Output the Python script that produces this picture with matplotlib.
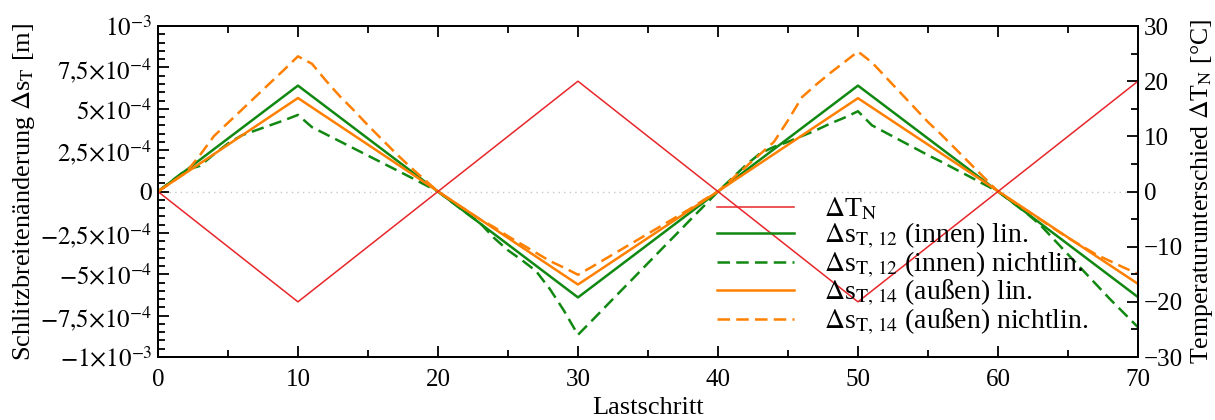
import matplotlib
matplotlib.use('Agg')
import matplotlib.pyplot as plt
import numpy as np
from matplotlib.ticker import MultipleLocator

plt.rcParams['font.family'] = ['Liberation Serif', 'DejaVu Serif']
plt.rcParams['mathtext.fontset'] = 'stix'
plt.rcParams['font.size'] = 17

# Temperaturunterschied (Eckpunkte)
steps_T = [0, 10, 30, 50, 70]
dT_N = [0, -20, 20, -20, 20]

# lineare Loesung (Eckpunkte), in mm
steps_lin = [0, 10, 30, 50, 70]
s12_lin = [0, 0.64, -0.64, 0.64, -0.638]
s14_lin = [0, 0.565, -0.562, 0.564, -0.558]

# nichtlineare Loesung je Lastschritt 0..70, in mm
steps = list(range(71))
s12_nl = [0, 0.065, 0.13, 0.155, 0.225, 0.29, 0.34, 0.37, 0.40, 0.43,
          0.463, 0.389, 0.346, 0.303, 0.26, 0.217, 0.174, 0.131, 0.088, 0.044,
          0, -0.064, -0.128, -0.19, -0.28, -0.355, -0.415, -0.48, -0.59, -0.72,
          -0.866, -0.78, -0.693, -0.606, -0.52, -0.433, -0.346, -0.26, -0.173, -0.087,
          0, 0.08, 0.16, 0.23, 0.27, 0.30, 0.335, 0.37, 0.41, 0.445,
          0.485, 0.40, 0.355, 0.31, 0.265, 0.22, 0.178, 0.133, 0.089, 0.044,
          0, -0.064, -0.128, -0.20, -0.29, -0.38, -0.47, -0.56, -0.65, -0.735,
          -0.82]
s14_nl = [0, 0.057, 0.115, 0.22, 0.335, 0.415, 0.495, 0.575, 0.655, 0.735,
          0.817, 0.772, 0.67, 0.575, 0.49, 0.40, 0.315, 0.23, 0.15, 0.075,
          0, -0.056, -0.112, -0.168, -0.215, -0.27, -0.32, -0.37, -0.42, -0.46,
          -0.503, -0.455, -0.405, -0.355, -0.305, -0.255, -0.205, -0.155, -0.105, -0.05,
          0, 0.075, 0.15, 0.225, 0.30, 0.43, 0.57, 0.645, 0.715, 0.78,
          0.846, 0.78, 0.69, 0.60, 0.51, 0.42, 0.34, 0.255, 0.17, 0.085,
          0, -0.056, -0.112, -0.168, -0.224, -0.28, -0.33, -0.38, -0.42, -0.46,
          -0.497]

yticks = [-1e-3, -7.5e-4, -5e-4, -2.5e-4, 0, 2.5e-4, 5e-4, 7.5e-4, 1e-3]
ylabels = [r'$-1{\times}10^{-3}$', r'$-7{,}5{\times}10^{-4}$', r'$-5{\times}10^{-4}$',
           r'$-2{,}5{\times}10^{-4}$', r'$0$', r'$2{,}5{\times}10^{-4}$',
           r'$5{\times}10^{-4}$', r'$7{,}5{\times}10^{-4}$', r'$10^{-3}$']

mm = 1e-3
green = '#118811'
orange = '#ff8000'
red = '#e8262a'

fig = plt.figure(figsize=(12.15, 4.2), dpi=100)
ax = fig.add_axes([0.130, 0.150, 0.8066, 0.788])
ax2 = ax.twinx()

ax.axhline(0, color='#c8c8c8', lw=1, ls=(0, (1, 3)), zorder=0)

l1, = ax2.plot(steps_T, dT_N, color=red, lw=1.1)
l2, = ax.plot(steps_lin, np.array(s12_lin) * mm, color=green, lw=1.8)
l3, = ax.plot(steps, np.array(s12_nl) * mm, color=green, lw=1.8, ls=(0, (5, 2.5)))
l4, = ax.plot(steps_lin, np.array(s14_lin) * mm, color=orange, lw=1.8)
l5, = ax.plot(steps, np.array(s14_nl) * mm, color=orange, lw=1.8, ls=(0, (5, 2.5)))

ax.set_xlim(0, 70)
ax.set_ylim(-1e-3, 1e-3)
ax2.set_ylim(-30, 30)

ax.xaxis.set_major_locator(MultipleLocator(10))
ax.xaxis.set_minor_locator(MultipleLocator(5))
ax.set_yticks(yticks)
ax.set_yticklabels(ylabels)
ax.yaxis.set_minor_locator(MultipleLocator(0.5e-4))
ax2.yaxis.set_major_locator(MultipleLocator(10))
ax2.yaxis.set_minor_locator(MultipleLocator(5))

ax.tick_params(which='both', direction='in', top=True, right=False, labelsize=18, width=1.3)
ax.tick_params(which='major', length=8)
ax.tick_params(which='minor', length=5)
ax.tick_params(axis='x', pad=9)
ax.tick_params(axis='y', pad=4)
ax2.tick_params(which='both', direction='in', labelsize=18, width=1.3, pad=4)
ax2.tick_params(which='major', length=8)
ax2.tick_params(which='minor', length=5)
for a in (ax, ax2):
    for sp in a.spines.values():
        sp.set_linewidth(1.3)

ax.set_xlabel('Lastschritt', fontsize=19, labelpad=4)
ax.set_ylabel(r'Schlitzbreitenänderung $\Delta$s$_{\mathrm{T}}$ [m]', fontsize=19, labelpad=2)
ax2.set_ylabel(r'Temperaturunterschied $\Delta$T$_{\mathrm{N}}$ [°C]', fontsize=18.5, labelpad=4)

labels = [r'$\Delta$T$_{\mathrm{N}}$',
          r'$\Delta$s$_{\mathrm{T,\,12}}$ (innen) lin.',
          r'$\Delta$s$_{\mathrm{T,\,12}}$ (innen) nichtlin.',
          r'$\Delta$s$_{\mathrm{T,\,14}}$ (außen) lin.',
          r'$\Delta$s$_{\mathrm{T,\,14}}$ (außen) nichtlin.']
ax2.legend([l1, l2, l3, l4, l5], labels, loc='upper left',
           bbox_to_anchor=(0.570, 0.487), frameon=False, fontsize=20,
           handlelength=2.8, handletextpad=1.05, labelspacing=-0.06, borderpad=0,
           borderaxespad=0)

fig.savefig('out.png', dpi=100)
